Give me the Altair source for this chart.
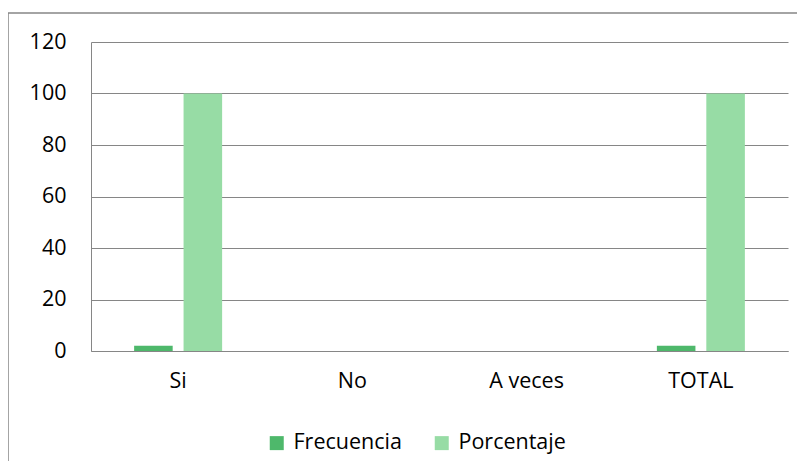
import altair as alt
import pandas as pd

categories = ["Si", "No", "A veces", "TOTAL"]
frecuencia = [2, 0, 0, 2]
porcentaje = [100, 0, 0, 100]
series = ["Frecuencia", "Porcentaje"]
colors = ["#4EB86B", "#97DCA5"]

rows = []
for c, f, p in zip(categories, frecuencia, porcentaje):
    rows.append({"cat": c, "serie": "Frecuencia", "valor": f})
    rows.append({"cat": c, "serie": "Porcentaje", "valor": p})
df = pd.DataFrame(rows)

FONT = "Open Sans"
FS = 21.5

bars = alt.Chart(df).mark_bar().encode(
    x=alt.X("cat:N", sort=categories, title=None,
            scale=alt.Scale(paddingInner=0.495, paddingOuter=0.2475),
            axis=alt.Axis(labelAngle=0, ticks=False, labelPadding=19, domainColor="#868686",
                          labelFont=FONT, labelFontSize=FS, labelColor="#000000")),
    xOffset=alt.XOffset("serie:N", sort=series,
                        scale=alt.Scale(paddingInner=0.22, paddingOuter=0)),
    y=alt.Y("valor:Q", title=None,
            scale=alt.Scale(domain=[0, 120]),
            axis=alt.Axis(values=[0, 20, 40, 60, 80, 100, 120], ticks=False, labelPadding=25,
                          gridColor="#868686", domainColor="#868686",
                          labelFont=FONT, labelFontSize=FS, labelColor="#000000")),
    color=alt.Color("serie:N", sort=series, title=None,
                    scale=alt.Scale(domain=series, range=colors),
                    legend=alt.Legend(orient="none", legendX=175, legendY=390, direction="horizontal",
                                      symbolType="square", symbolSize=196, symbolStrokeWidth=0,
                                      labelFont=FONT, labelFontSize=FS, labelColor="#000000",
                                      columnPadding=29, labelOffset=6)),
)

frame = alt.Chart(pd.DataFrame({"a": [0]})).mark_rect(
    fill=None, stroke="#868686", strokeWidth=1.5
).encode(x=alt.value(-83), x2=alt.value(730), y=alt.value(-29), y2=alt.value(450))

chart = alt.layer(frame, bars).properties(
    width=697, height=309,
    autosize=alt.AutoSizeParams(type="none"),
    padding={"left": 83, "top": 34, "right": 9, "bottom": 110},
).configure_view(stroke=None).configure_axis(gridWidth=1, domainWidth=1)

chart.save("out.html", embed_options={"renderer": "svg", "actions": False})
